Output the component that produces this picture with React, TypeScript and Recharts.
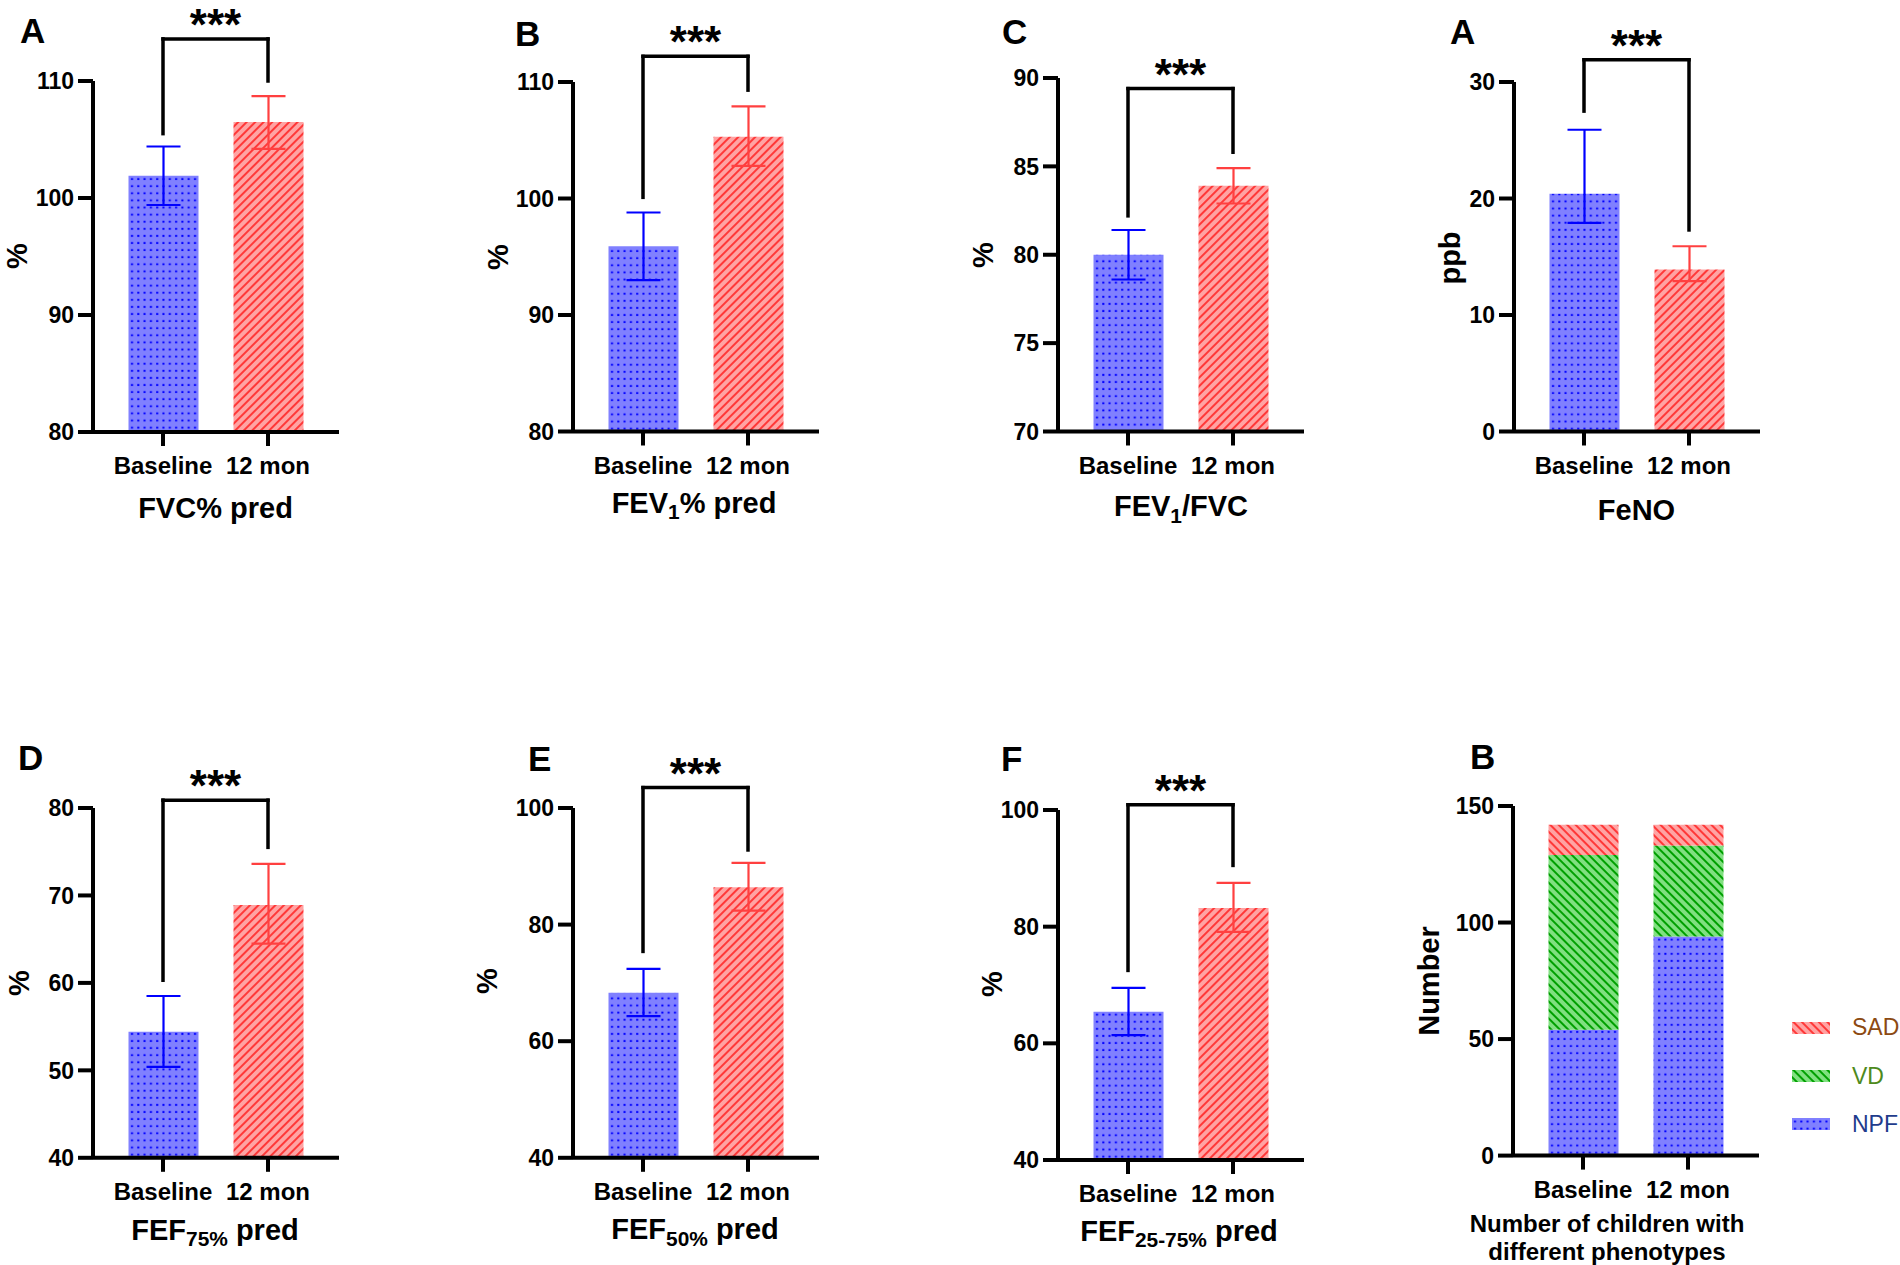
import React from 'react';
import { BarChart, Bar, XAxis, YAxis, ErrorBar, Cell, ReferenceLine, Legend } from 'recharts';

const FONT = '"Liberation Sans", Arial, Helvetica, sans-serif';

// ---------- data ----------
const categories = ['Baseline', '12 mon'];

// FVC% pred
const fvcMean = [101.9, 106.5];
const fvcLow = [99.4, 104.2];
const fvcHigh = [104.4, 108.7];
const fvcBracket = [105.5, 113.6, 110.0];
const fvcTicks = [80, 90, 100, 110];

// FEV1% pred
const fev1Mean = [95.9, 105.3];
const fev1Low = [93.0, 102.8];
const fev1High = [98.8, 107.9];
const fev1Bracket = [100.1, 112.2, 109.3];
const fev1Ticks = [80, 90, 100, 110];

// FEV1/FVC
const ratioMean = [80.0, 83.9];
const ratioLow = [78.6, 82.9];
const ratioHigh = [81.4, 84.9];
const ratioBracket = [82.2, 89.4, 85.8];
const ratioTicks = [70, 75, 80, 85, 90];

// FeNO
const fenoMean = [20.4, 13.9];
const fenoLow = [17.9, 12.9];
const fenoHigh = [25.9, 15.9];
const fenoBracket = [27.5, 31.9, 17.3];
const fenoTicks = [0, 10, 20, 30];

// FEF75% pred
const fef75Mean = [54.4, 68.9];
const fef75Low = [50.4, 64.5];
const fef75High = [58.5, 73.6];
const fef75Bracket = [60.3, 80.9, 75.5];
const fef75Ticks = [40, 50, 60, 70, 80];

// FEF50% pred
const fef50Mean = [68.3, 86.4];
const fef50Low = [64.3, 82.4];
const fef50High = [72.4, 90.6];
const fef50Bracket = [75.4, 103.5, 92.8];
const fef50Ticks = [40, 60, 80, 100];

// FEF25-75% pred
const fef2575Mean = [65.4, 83.2];
const fef2575Low = [61.4, 79.1];
const fef2575High = [69.5, 87.5];
const fef2575Bracket = [72.5, 100.9, 90.5];
const fef2575Ticks = [40, 60, 80, 100];

// Phenotype counts
const phenoNames = ['NPF', 'VD', 'SAD'];
const npfCounts = [54, 94];
const vdCounts = [75, 39];
const sadCounts = [13, 9];
const phenoTicks = [0, 50, 100, 150];

// ---------- helpers ----------
function buildRows(mean: number[], low: number[], high: number[]) {
  return categories.map((c, i) => ({
    cat: c,
    mean: mean[i],
    errBase: i === 0 ? [mean[i] - low[i], high[i] - mean[i]] : null,
    errFollow: i === 1 ? [mean[i] - low[i], high[i] - mean[i]] : null,
  }));
}

const phenoRows = categories.map((c, i) => ({
  cat: c,
  NPF: npfCounts[i],
  VD: vdCounts[i],
  SAD: sadCounts[i],
}));

const YW = 90;
const MT = 90;
const XH = 48;
const PW = 246;
const PAD_L = 17.5;

const axisLine = { stroke: '#000', strokeWidth: 4 };
const yTickStyle = { fontSize: 23, fontWeight: 700, fill: '#000', fontFamily: FONT };
const xTickStyle = { fontSize: 24, fontWeight: 700, fill: '#000', fontFamily: FONT };

function Defs() {
  return (
    <svg width={0} height={0} style={{ position: 'absolute' }}>
      <defs>
        <pattern id="pDots" width="6.3" height="7.1" patternUnits="userSpaceOnUse">
          <rect width="6.3" height="7.1" fill="#8080FF" />
          <rect x="2" y="2.5" width="2" height="2" fill="#0000FF" />
        </pattern>
        <pattern id="pRedF" width="6" height="6" patternUnits="userSpaceOnUse" patternTransform="rotate(45)">
          <rect width="6" height="6" fill="#FFA3A3" />
          <rect x="0" y="0" width="2" height="6" fill="#FF3838" />
        </pattern>
        <pattern id="pRedB" width="6" height="6" patternUnits="userSpaceOnUse" patternTransform="rotate(-45)">
          <rect width="6" height="6" fill="#FFA3A3" />
          <rect x="0" y="0" width="2" height="6" fill="#FF3838" />
        </pattern>
        <pattern id="pGreenB" width="6" height="6" patternUnits="userSpaceOnUse" patternTransform="rotate(-45)">
          <rect width="6" height="6" fill="#80E080" />
          <rect x="0" y="0" width="2" height="6" fill="#00A000" />
        </pattern>
      </defs>
    </svg>
  );
}

type PanelProps = {
  rows: any[];
  ticks: number[];
  bracket: number[];
  left: number;
  top: number;
  bottom: number;
};

function SimpleChart({ rows, ticks, bracket, left, top, bottom }: PanelProps) {
  const plotH = bottom - top;
  const width = YW + PW + 10;
  const height = MT + plotH + XH;
  const domain = [ticks[0], ticks[ticks.length - 1]];
  const br = { stroke: '#000', strokeWidth: 3.5, strokeLinecap: 'square' as const };
  return (
    <div style={{ position: 'absolute', left: left - YW, top: top - MT }}>
      <BarChart
        width={width}
        height={height}
        data={rows}
        margin={{ top: MT, right: 10, bottom: 0, left: 0 }}
        barSize={70}
      >
        <XAxis
          dataKey="cat"
          type="category"
          height={XH}
          interval={0}
          padding={{ left: PAD_L, right: PW - PAD_L - 210 }}
          tickSize={14}
          tickMargin={11}
          axisLine={axisLine}
          tickLine={axisLine}
          tick={xTickStyle}
        />
        <YAxis
          type="number"
          domain={domain}
          ticks={ticks}
          interval={0}
          width={YW}
          tickSize={15}
          tickMargin={4}
          axisLine={axisLine}
          tickLine={axisLine}
          tick={yTickStyle}
        />
        <Bar dataKey="mean" isAnimationActive={false}>
          {rows.map((r, i) => (
            <Cell key={r.cat} fill={i === 0 ? 'url(#pDots)' : 'url(#pRedF)'} />
          ))}
          <ErrorBar dataKey="errBase" width={17} strokeWidth={2.2} stroke="#0000FF" direction="y" isAnimationActive={false} />
          <ErrorBar dataKey="errFollow" width={17} strokeWidth={2.2} stroke="#FF4040" direction="y" isAnimationActive={false} />
        </Bar>
        <ReferenceLine
          ifOverflow="visible"
          segment={[{ x: categories[0], y: bracket[0] }, { x: categories[0], y: bracket[1] }]}
          {...br}
        />
        <ReferenceLine
          ifOverflow="visible"
          segment={[{ x: categories[1], y: bracket[2] }, { x: categories[1], y: bracket[1] }]}
          {...br}
        />
        <ReferenceLine
          ifOverflow="visible"
          segment={[{ x: categories[0], y: bracket[1] }, { x: categories[1], y: bracket[1] }]}
          {...br}
          label={{ value: '***', position: 'top', offset: -1, fill: '#000', fontSize: 44, fontWeight: 700, fontFamily: FONT }}
        />
      </BarChart>
    </div>
  );
}

const phenoFill: Record<string, string> = { NPF: 'url(#pDots)', VD: 'url(#pGreenB)', SAD: 'url(#pRedB)' };
const phenoText: Record<string, string> = { NPF: '#1F3C8C', VD: '#4E8A1C', SAD: '#8C4A12' };

function PhenoChart({ left, top, bottom }: { left: number; top: number; bottom: number }) {
  const plotH = bottom - top;
  const MR = 1900 - (left + PW);
  const width = YW + PW + MR;
  const height = MT + plotH + XH;
  const ox = left - YW;
  const oy = top - MT;
  const legendRows = [...phenoNames].reverse();
  const legendY = [1028, 1076.5, 1124.5];
  return (
    <div style={{ position: 'absolute', left: ox, top: oy }}>
      <BarChart
        width={width}
        height={height}
        data={phenoRows}
        margin={{ top: MT, right: MR, bottom: 0, left: 0 }}
        barSize={70}
      >
        <XAxis
          dataKey="cat"
          type="category"
          height={XH}
          interval={0}
          padding={{ left: PAD_L, right: PW - PAD_L - 210 }}
          tickSize={14}
          tickMargin={11}
          axisLine={axisLine}
          tickLine={axisLine}
          tick={xTickStyle}
        />
        <YAxis
          type="number"
          domain={[phenoTicks[0], phenoTicks[phenoTicks.length - 1]]}
          ticks={phenoTicks}
          interval={0}
          width={YW}
          tickSize={15}
          tickMargin={4}
          axisLine={axisLine}
          tickLine={axisLine}
          tick={yTickStyle}
        />
        {phenoNames.map((n) => (
          <Bar key={n} dataKey={n} name={n} stackId="s" fill={phenoFill[n]} isAnimationActive={false} />
        ))}
        <Legend
          wrapperStyle={{ left: 0, top: 0, width: 0, height: 0, overflow: 'visible' }}
          content={() => (
            <div style={{ position: 'relative', width: 0, height: 0 }}>
              {legendRows.map((n, i) => (
                <div
                  key={n}
                  style={{
                    position: 'absolute',
                    left: 1792 - ox,
                    top: legendY[i] - oy - 14,
                    height: 28,
                    display: 'flex',
                    alignItems: 'center',
                    whiteSpace: 'nowrap',
                  }}
                >
                  <svg width={38} height={12} style={{ display: 'block' }}>
                    <rect width={38} height={12} fill={phenoFill[n]} />
                  </svg>
                  <span
                    style={{
                      marginLeft: 22,
                      fontFamily: FONT,
                      fontSize: 23,
                      color: phenoText[n],
                      lineHeight: 1,
                    }}
                  >
                    {n}
                  </span>
                </div>
              ))}
            </div>
          )}
        />
      </BarChart>
    </div>
  );
}

// ---------- text helpers ----------
function Letter({ ch, x, capTop }: { ch: string; x: number; capTop: number }) {
  const fs = 35;
  return (
    <div
      style={{
        position: 'absolute',
        left: x,
        top: capTop - 0.13 * fs,
        fontFamily: FONT,
        fontWeight: 700,
        fontSize: fs,
        lineHeight: 1,
        color: '#000',
      }}
    >
      {ch}
    </div>
  );
}

function YTitle({ text, cx, cy, fs = 29 }: { text: string; cx: number; cy: number; fs?: number }) {
  return (
    <div
      style={{
        position: 'absolute',
        left: cx,
        top: cy,
        transform: 'translate(-50%, -50%) rotate(-90deg)',
        fontFamily: FONT,
        fontWeight: 700,
        fontSize: fs,
        lineHeight: 0.8,
        whiteSpace: 'nowrap',
        color: '#000',
      }}
    >
      {text}
    </div>
  );
}

function Sub({ children }: { children: React.ReactNode }) {
  return <span style={{ fontSize: '0.72em', position: 'relative', top: '0.32em' }}>{children}</span>;
}

function XTitle({ children, cx, capTop, fs = 29 }: { children: React.ReactNode; cx: number; capTop: number; fs?: number }) {
  return (
    <div
      style={{
        position: 'absolute',
        left: cx - 250,
        width: 500,
        top: capTop - 0.13 * fs,
        textAlign: 'center',
        fontFamily: FONT,
        fontWeight: 700,
        fontSize: fs,
        lineHeight: 1,
        whiteSpace: 'nowrap',
        color: '#000',
      }}
    >
      {children}
    </div>
  );
}

export default function App() {
  return (
    <div
      style={{
        position: 'absolute',
        left: 0,
        top: 0,
        width: 1900,
        height: 1265,
        background: '#fff',
        overflow: 'hidden',
        fontFamily: FONT,
      }}
    >
      <Defs />
      {/* Top row */}
      <SimpleChart rows={buildRows(fvcMean, fvcLow, fvcHigh)} ticks={fvcTicks} bracket={fvcBracket} left={93} top={81} bottom={432} />
      <SimpleChart rows={buildRows(fev1Mean, fev1Low, fev1High)} ticks={fev1Ticks} bracket={fev1Bracket} left={573} top={82} bottom={431.5} />
      <SimpleChart rows={buildRows(ratioMean, ratioLow, ratioHigh)} ticks={ratioTicks} bracket={ratioBracket} left={1058} top={78} bottom={431.5} />
      <SimpleChart rows={buildRows(fenoMean, fenoLow, fenoHigh)} ticks={fenoTicks} bracket={fenoBracket} left={1514} top={82} bottom={431.5} />
      {/* Bottom row */}
      <SimpleChart rows={buildRows(fef75Mean, fef75Low, fef75High)} ticks={fef75Ticks} bracket={fef75Bracket} left={93} top={807.5} bottom={1157.3} />
      <SimpleChart rows={buildRows(fef50Mean, fef50Low, fef50High)} ticks={fef50Ticks} bracket={fef50Bracket} left={573} top={807.5} bottom={1157.3} />
      <SimpleChart rows={buildRows(fef2575Mean, fef2575Low, fef2575High)} ticks={fef2575Ticks} bracket={fef2575Bracket} left={1058} top={810.4} bottom={1160.4} />
      <PhenoChart left={1513} top={806.3} bottom={1155.9} />

      {/* Panel letters */}
      <Letter ch="A" x={20} capTop={18} />
      <Letter ch="B" x={515} capTop={20.7} />
      <Letter ch="C" x={1002} capTop={19} />
      <Letter ch="A" x={1450} capTop={19} />
      <Letter ch="D" x={18} capTop={744.3} />
      <Letter ch="E" x={528} capTop={746} />
      <Letter ch="F" x={1001} capTop={746} />
      <Letter ch="B" x={1470} capTop={743.2} />

      {/* Y titles */}
      <YTitle text="%" cx={17.5} cy={256} />
      <YTitle text="%" cx={499} cy={256.6} />
      <YTitle text="%" cx={984} cy={254.8} />
      <YTitle text="ppb" cx={1451} cy={258.3} />
      <YTitle text="%" cx={20} cy={983} />
      <YTitle text="%" cx={488} cy={980.7} />
      <YTitle text="%" cx={993} cy={984.2} />
      <YTitle text="Number" cx={1430} cy={981} fs={29} />

      {/* X titles */}
      <XTitle cx={215.5} capTop={498}>FVC% pred</XTitle>
      <XTitle cx={694} capTop={492.5}>FEV<Sub>1</Sub>% pred</XTitle>
      <XTitle cx={1181} capTop={496}>FEV<Sub>1</Sub>/FVC</XTitle>
      <XTitle cx={1636.5} capTop={499.4}>FeNO</XTitle>
      <XTitle cx={215} capTop={1219.5}>FEF<Sub>75%</Sub> pred</XTitle>
      <XTitle cx={695} capTop={1218.8}>FEF<Sub>50%</Sub> pred</XTitle>
      <XTitle cx={1179} capTop={1220.5}>FEF<Sub>25-75%</Sub> pred</XTitle>
      <XTitle cx={1607} capTop={1215.3} fs={24}>Number of children with</XTitle>
      <XTitle cx={1607} capTop={1243.3} fs={24}>different phenotypes</XTitle>
    </div>
  );
}
